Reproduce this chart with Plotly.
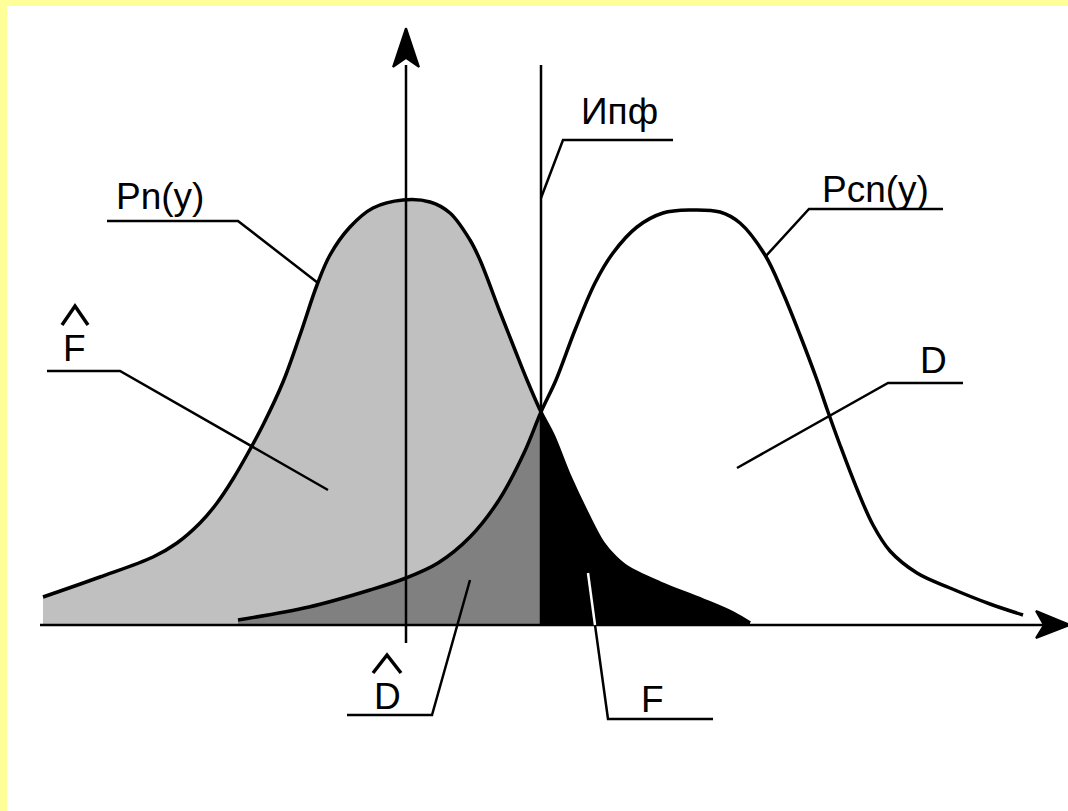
import plotly.graph_objects as go

# ---------------- data (x position, curve height above the axis) ----------------
pn_x = [43, 100, 153, 177, 200, 217, 233, 248, 263, 283, 300, 317, 330, 350, 373, 403, 430,
        450, 470, 480, 500, 515, 527, 541, 553, 570, 587, 603, 615, 627, 660, 703, 733, 750]
pn_h = [28, 48, 68, 82, 102, 122, 146, 172, 200, 243, 290, 340, 370, 398, 417, 425, 423,
        412, 385, 365, 313, 275, 245, 213, 190, 148, 112, 82, 68, 58, 42, 25, 12, 2]

pcn_x = [238, 309, 370, 406, 438, 470, 499, 524, 541, 556, 575, 595, 613, 637, 663, 690,
         720, 740, 765, 783, 800, 817, 827, 840, 857, 873, 890, 917, 950, 990, 1023]
pcn_h = [5, 18, 35, 47, 62, 88, 125, 172, 213, 245, 295, 342, 372, 398, 412, 415,
         413, 402, 370, 332, 290, 245, 216, 180, 136, 100, 74, 52, 37, 21, 10]

threshold_x = 541          # Ипф
y_axis_x = 406

labels = ["Pn(y)", "Ипф", "Pcn(y)", "D", "F", "D", "F"]
label_x = [160, 619, 875, 933, 74, 387, 652]
label_y = [429, 514, 436, 265, 277, -71, -74]

# leader lines: list of polylines (x list, y list)
leaders = [
    ([107, 238, 318], [404, 404, 342]),      # Pn(y)
    ([47, 120, 328], [254, 254, 135]),       # F^
    ([673, 563, 541], [485, 485, 427]),      # Ипф
    ([943, 809, 765], [416, 416, 368]),      # Pcn(y)
    ([963, 888, 737], [242, 242, 157]),      # D
    ([347, 432, 470], [-90, -90, 45]),       # D^
    ([713, 608, 595], [-94, -94, 0]),        # F (below axis)
]
leader_white = ([595, 588], [0, 52])       # F leader over black area
hats = [([62, 75, 88], [300, 319, 300]), ([373, 387, 401], [-48, -30, -48])]

W, H = 1068, 811
BASE = 625  # baseline pixel row
Y_RANGE = [BASE - H, BASE]

fig = go.Figure()

def sub(xs, hs, cond):
    pts = [(a, b) for a, b in zip(xs, hs) if cond(a)]
    return [p[0] for p in pts], [p[1] for p in pts]

# fills
lx, lh = sub(pn_x, pn_h, lambda v: v <= threshold_x)
fig.add_trace(go.Scatter(x=lx, y=lh, mode="lines", fill="tozeroy", fillcolor="#c0c0c0",
                         line=dict(width=0, color="#c0c0c0", shape="spline"), hoverinfo="skip"))
dx, dh = sub(pcn_x, pcn_h, lambda v: v <= threshold_x)
fig.add_trace(go.Scatter(x=dx, y=dh, mode="lines", fill="tozeroy", fillcolor="#808080",
                         line=dict(width=0, color="#808080", shape="spline"), hoverinfo="skip"))
bx, bh = sub(pn_x, pn_h, lambda v: v >= threshold_x)
fig.add_trace(go.Scatter(x=bx, y=bh, mode="lines", fill="tozeroy", fillcolor="#000000",
                         line=dict(width=0, color="#000000", shape="spline"), hoverinfo="skip"))

# axes
fig.add_trace(go.Scatter(x=[40, 1045], y=[0, 0], mode="lines",
                         line=dict(color="black", width=2.5), hoverinfo="skip"))
fig.add_trace(go.Scatter(x=[y_axis_x, y_axis_x], y=[-18, 560], mode="lines",
                         line=dict(color="black", width=2.5), hoverinfo="skip"))
fig.add_trace(go.Scatter(x=[threshold_x, threshold_x], y=[0, 560], mode="lines",
                         line=dict(color="black", width=2.5), hoverinfo="skip"))
# arrow heads
fig.add_trace(go.Scatter(x=[y_axis_x, y_axis_x + 13, y_axis_x, y_axis_x - 13, y_axis_x],
                         y=[597, 558, 567, 558, 597], mode="lines", fill="toself",
                         fillcolor="black", line=dict(color="black", width=2), hoverinfo="skip"))
fig.add_trace(go.Scatter(x=[1070, 1036, 1044, 1036, 1070], y=[0, 14, 0, -13, 0], mode="lines",
                         fill="toself", fillcolor="black", line=dict(color="black", width=2),
                         hoverinfo="skip"))

# curves
fig.add_trace(go.Scatter(x=pn_x, y=pn_h, mode="lines",
                         line=dict(color="black", width=3.5, shape="spline"), hoverinfo="skip"))
fig.add_trace(go.Scatter(x=pcn_x, y=pcn_h, mode="lines",
                         line=dict(color="black", width=3.5, shape="spline"), hoverinfo="skip"))

# leaders
for xs, ys in leaders:
    fig.add_trace(go.Scatter(x=xs, y=ys, mode="lines", line=dict(color="black", width=2.5),
                             hoverinfo="skip"))
fig.add_trace(go.Scatter(x=leader_white[0], y=leader_white[1], mode="lines",
                         line=dict(color="white", width=2.5), hoverinfo="skip"))
for xs, ys in hats:
    fig.add_trace(go.Scatter(x=xs, y=ys, mode="lines", line=dict(color="black", width=3.5),
                             hoverinfo="skip"))

for t, x, y in zip(labels, label_x, label_y):
    fig.add_annotation(x=x, y=y, text=t, showarrow=False, xanchor="center", yanchor="middle",
                       font=dict(family="Liberation Sans, Arial, sans-serif", size=37, color="black"))

# yellow frame (top and left)
fig.add_shape(type="rect", xref="paper", yref="paper", x0=0, x1=7 / W, y0=0, y1=1,
              fillcolor="#ffff99", line=dict(width=0), layer="above")
fig.add_shape(type="rect", xref="paper", yref="paper", x0=0, x1=1, y0=1 - 6 / H, y1=1,
              fillcolor="#ffff99", line=dict(width=0), layer="above")

fig.update_layout(
    width=W, height=H, margin=dict(l=0, r=0, t=0, b=0),
    paper_bgcolor="white", plot_bgcolor="white", showlegend=False,
    xaxis=dict(range=[0, W], visible=False, fixedrange=True),
    yaxis=dict(range=Y_RANGE, visible=False, fixedrange=True),
)

fig.write_html("out.html", config={"displayModeBar": False},
               post_script="document.body.style.margin='0';document.body.style.overflow='hidden';")
